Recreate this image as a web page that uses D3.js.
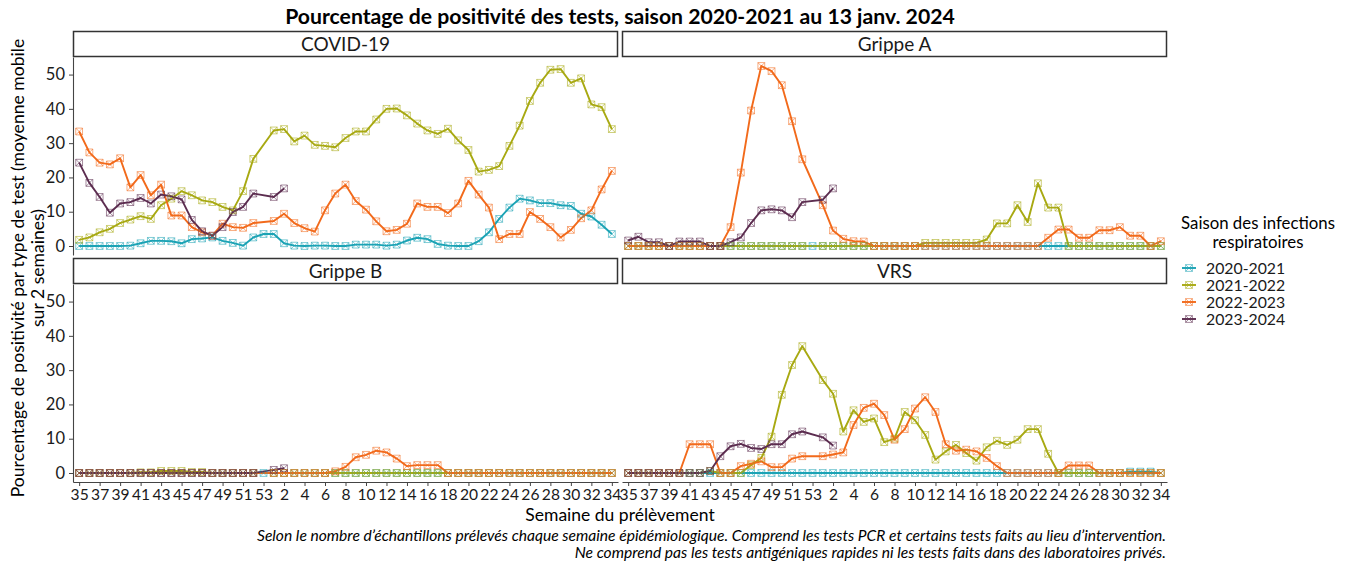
<!DOCTYPE html>
<html>
<head>
<meta charset="utf-8">
<script src="https://cdn.jsdelivr.net/npm/d3@7"></script>
<style>
  body { margin: 0; background: #fff; }
  svg { font-family: Lato, "Open Sans", sans-serif; }
</style>
</head>
<body>
<svg id="chart"></svg>
<script>
// semaines epidemiologiques (53 positions, la 53 n'existe que pour 2020-2021)
const weeks = [35, 36, 37, 38, 39, 40, 41, 42, 43, 44, 45, 46, 47, 48, 49, 50, 51, 52, 53,
  1, 2, 3, 4, 5, 6, 7, 8, 9, 10, 11, 12, 13, 14, 15, 16, 17, 18, 19, 20, 21, 22, 23, 24,
  25, 26, 27, 28, 29, 30, 31, 32, 33, 34];

const seasons = ['2020-2021', '2021-2022', '2022-2023', '2023-2024'];
const colors = ['#1ba3b5', '#a8a912', '#f26a1b', '#5c2d50'];
const panels = ['COVID-19', 'Grippe A', 'Grippe B', 'VRS'];

const covid2020 = [0, 0, 0, 0, 0, 0.1, 0.8, 1.5, 1.5, 1.4, 0.8, 2.0, 2.2, 2.5, 1.5, 0.9, 0.1, 2.5, 3.5,
  3.5, 0.8, 0.1, 0, 0.1, 0.1, 0, 0, 0.4, 0.4, 0.4, 0.1, 0.4, 1.6, 2.4, 2.0, 0.6, 0.1, 0, 0, 1.4, 4.0,
  7.9, 11.2, 13.8, 13.3, 12.5, 12.5, 11.9, 11.7, 9.4, 8.6, 6.2, 3.5];
const covid2021 = [1.8, 2.5, 4.0, 5.0, 6.7, 7.7, 8.7, 7.9, 11.9, 13.8, 16.0, 14.8, 13.3, 12.8, 11.4, 10.4, 16.0, 25.4, null,
  33.7, 34.1, 30.5, 32.2, 29.5, 29.2, 28.8, 31.5, 33.4, 33.4, 36.9, 40.0, 40.1, 38.1, 35.7, 33.7, 32.7, 34.2, 30.8, 28.0, 21.7, 22.2,
  23.3, 29.2, 35.1, 42.3, 47.6, 51.4, 51.6, 47.6, 48.9, 41.3, 40.5, 34.1];
const covid2022 = [33.4, 27.3, 24.3, 23.8, 25.6, 17.1, 20.7, 14.8, 17.9, 8.9, 8.9, 5.5, 4.0, 3.0, 6.5, 5.5, 5.3, 6.7, null,
  7.3, 9.4, 6.7, 5.2, 4.2, 10.4, 15.3, 17.9, 13.1, 10.6, 7.2, 4.3, 4.7, 6.5, 12.4, 11.4, 11.4, 9.6, 12.4, 19.0, 15.0, 11.2,
  2.0, 3.5, 3.5, 9.9, 7.9, 5.5, 2.5, 4.7, 8.1, 10.4, 16.5, 21.9];
const covid2023 = [24.3, 18.4, 14.3, 9.7, 12.4, 12.8, 14.0, 12.4, 15.0, 14.5, 13.6, 7.6, 4.3, 3.0, 5.5, 9.9, 11.4, 15.3, null,
  14.3, 16.8];

const grippeA2020 = [0, 0, 0, 0, 0, 0, 0, 0, 0, 0, 0, 0, 0, 0, 0, 0, 0, 0, 0,
  0, 0, 0, 0, 0, 0, 0, 0, 0, 0, 0, 0, 0, 0, 0, 0, 0, 0, 0, 0, 0, 0,
  0, 0, 0, 0, 0, 0, 0, 0, 0, 0, 0, 0];
const grippeA2021 = [0, 0, 0, 0, 0, 0, 0, 0, 0, 0, 0, 0, 0, 0, 0, 0, 0, 0, null,
  0, 0, 0, 0, 0, 0, 0, 0, 0, 0, 0.9, 0.9, 0.9, 0.9, 0.9, 0.9, 1.9, 6.6, 6.6, 11.9, 7.0, 18.3,
  11.2, 11.2, 0, 0, 0, 0, 0, 0, 0, 0, 0, 0];
const grippeA2022 = [0, 0, 0, 0, 0, 0, 0, 0, 0, 0, 5.5, 21.4, 39.5, 52.5, 51.0, 46.9, 36.4, 25.3, null,
  11.9, 4.5, 2.1, 1.4, 1.3, 0, 0, 0, 0, 0, 0, 0, 0, 0, 0, 0, 0, 0, 0, 0, 0, 0,
  2.4, 4.8, 4.8, 2.4, 2.4, 4.6, 4.6, 5.5, 3.0, 3.0, 0, 1.4];
const grippeA2023 = [1.6, 2.7, 1.1, 1.1, 0, 1.3, 1.3, 1.3, 0, 0, 1.1, 2.5, 6.7, 10.4, 10.7, 10.4, 8.4, 12.8, null,
  13.5, 16.8];

const grippeB2020 = [0, 0, 0, 0, 0, 0, 0, 0, 0, 0, 0, 0, 0, 0, 0, 0, 0, 0, 0,
  0, 0, 0, 0, 0, 0, 0, 0, 0, 0, 0, 0, 0, 0, 0, 0, 0, 0, 0, 0, 0, 0,
  0, 0, 0, 0, 0, 0, 0, 0, 0, 0, 0, 0];
const grippeB2021 = [0, 0, 0, 0, 0, 0, 0.2, 0.2, 0.6, 0.6, 0.6, 0.3, 0.3, 0, 0, 0, 0, 0, null,
  0, 0, 0, 0, 0, 0, 0, 0, 0, 0, 0, 0, 0, 0, 0, 0, 0, 0, 0, 0, 0, 0,
  0, 0, 0, 0, 0, 0, 0, 0, 0, 0, 0, 0];
const grippeB2022 = [0, 0, 0, 0, 0, 0, 0, 0, 0, 0, 0, 0, 0, 0, 0, 0, 0, 0, null,
  0, 0, 0, 0, 0, 0, 0.5, 1.8, 4.6, 5.3, 6.5, 6.0, 4.2, 2.0, 2.3, 2.3, 2.3, 0, 0, 0, 0, 0,
  0, 0, 0, 0, 0, 0, 0, 0, 0, 0, 0, 0];
const grippeB2023 = [0, 0, 0, 0, 0, 0, 0, 0, 0, 0, 0, 0, 0, 0, 0, 0, 0, 0, null,
  0.9, 1.4];

const vrs2020 = [0, 0, 0, 0, 0, 0, 0, 0, 0, 0, 0, 0, 0, 0, 0, 0, 0, 0, 0,
  0, 0, 0, 0, 0, 0, 0, 0, 0, 0, 0, 0, 0, 0, 0, 0, 0, 0, 0, 0, 0, 0,
  0, 0, 0, 0, 0, 0, 0, 0, 0.4, 0.4, 0.4, 0];
const vrs2021 = [0, 0, 0, 0, 0, 0, 0, 0, 0.6, 0, 0, 0, 2.3, 4.4, 10.6, 22.8, 31.5, 37.0, null,
  27.1, 23.1, 12.1, 18.3, 14.9, 15.9, 9.0, 10.0, 17.8, 15.4, 11.1, 3.9, 6.3, 8.2, 5.8, 3.6, 7.5, 9.4, 8.2, 9.7, 12.8, 12.8,
  5.6, 0, 0, 0, 0, 0, 0, 0, 0, 0, 0, 0];
const vrs2022 = [0, 0, 0, 0, 0, 0, 8.4, 8.4, 8.4, 0, 0, 2.0, 2.7, 3.4, 1.7, 1.7, 4.2, 4.9, null,
  4.9, 5.4, 6.0, 14.0, 19.0, 20.2, 16.9, 9.7, 12.8, 18.8, 22.1, 17.8, 8.4, 6.5, 6.8, 6.3, 4.4, 2.0, 0, 0, 0, 0,
  0, 0, 2.2, 2.2, 2.2, 0, 0, 0, 0, 0, 0, 0];
const vrs2023 = [0, 0, 0, 0, 0, 0, 0, 0, 0.6, 4.9, 7.8, 8.5, 7.3, 7.0, 8.4, 8.4, 11.3, 12.1, null,
  10.4, 8.0];

const yTicks = [0, 10, 20, 30, 40, 50];
const xTicks = weeks.filter((w, i) => i % 2 === 0);

const panelData = [
  [covid2020, covid2021, covid2022, covid2023],
  [grippeA2020, grippeA2021, grippeA2022, grippeA2023],
  [grippeB2020, grippeB2021, grippeB2022, grippeB2023],
  [vrs2020, vrs2021, vrs2022, vrs2023]
];

const width = 1353;
const height = 564;
const panelW = 545;
const panelH = 198;
const stripH = 26;
const colX = [73, 622];
const rowY = [31, 258];

const svg = d3.select('#chart')
  .attr('width', width)
  .attr('height', height);

const x = d3.scalePoint()
  .domain(weeks)
  .range([0, panelW])
  .padding(0.6);

const allValues = panelData.flat(2).filter(v => v !== null);
const yMin = d3.min(allValues);
const yMax = d3.max(allValues);
const yPad = (yMax - yMin) * 0.05;
const y = d3.scaleLinear()
  .domain([yMin - yPad, yMax + yPad])
  .range([panelH, 0]);

const line = d3.line()
  .x(d => x(d.w))
  .y(d => y(d.v));

const markerPath = s => `M${-s},${-s}H${s}V${s}H${-s}Z M${-s},${-s}L${s},${s} M${-s},${s}L${s},${-s}`;

// titre
svg.append('text')
  .attr('x', 620)
  .attr('y', 24)
  .attr('text-anchor', 'middle')
  .style('font-size', '21.2px')
  .style('font-weight', 'bold')
  .style('fill', '#000')
  .text('Pourcentage de positivité des tests, saison 2020-2021 au 13 janv. 2024');

panels.forEach((name, p) => {
  const col = p % 2;
  const row = Math.floor(p / 2);
  const g = svg.append('g')
    .attr('transform', `translate(${colX[col]}, ${rowY[row]})`);

  // bandeau
  g.append('rect')
    .attr('x', 0.5)
    .attr('y', 0.5)
    .attr('width', panelW - 1)
    .attr('height', stripH - 1)
    .style('fill', '#fff')
    .style('stroke', '#333')
    .style('stroke-width', 1.5);

  g.append('text')
    .attr('x', panelW / 2)
    .attr('y', stripH / 2 + 7)
    .attr('text-anchor', 'middle')
    .style('font-size', '19px')
    .style('fill', '#1a1a1a')
    .text(name);

  const plot = g.append('g')
    .attr('transform', `translate(0, ${stripH})`);

  const series = panelData[p].map((vals, s) => ({
    s: s,
    pts: vals.map((v, i) => ({ w: weeks[i], v: v })).filter(d => d.v !== null)
  }));

  plot.selectAll('path.line')
    .data(series)
    .enter()
    .append('path')
    .attr('class', 'line')
    .attr('d', d => line(d.pts))
    .style('fill', 'none')
    .style('stroke', d => colors[d.s])
    .style('stroke-width', 1.9)
    .style('stroke-linejoin', 'round');

  series.forEach(d => {
    plot.selectAll(null)
      .data(d.pts)
      .enter()
      .append('path')
      .attr('transform', e => `translate(${x(e.w)}, ${y(e.v)})`)
      .attr('d', markerPath(3.4))
      .style('fill', 'none')
      .style('stroke', colors[d.s])
      .style('stroke-width', 1)
      .style('stroke-opacity', 0.55);
  });

  if (col === 0) {
    const yAxis = d3.axisLeft(y)
      .tickValues(yTicks)
      .tickSize(4)
      .tickSizeOuter(0)
      .tickPadding(4);
    const ya = plot.append('g').call(yAxis);
    ya.select('.domain').style('stroke', '#444').style('stroke-width', 1.1);
    ya.selectAll('.tick line').style('stroke', '#444');
    ya.selectAll('.tick text')
      .style('font-size', '16.5px')
      .style('fill', '#1a1a1a')
      .style('font-family', 'Lato, sans-serif');
  }

  if (row === 1) {
    const xAxis = d3.axisBottom(x)
      .tickValues(xTicks)
      .tickSize(4)
      .tickSizeOuter(0)
      .tickPadding(3);
    const xa = plot.append('g')
      .attr('transform', `translate(0, ${panelH})`)
      .call(xAxis);
    xa.select('.domain').style('stroke', '#444').style('stroke-width', 1.1);
    xa.selectAll('.tick line').style('stroke', '#444');
    xa.selectAll('.tick text')
      .style('font-size', '15.6px')
      .style('fill', '#1a1a1a')
      .style('font-family', 'Lato, sans-serif');
  }
});

// titres des axes
svg.append('text')
  .attr('x', 620)
  .attr('y', 521)
  .attr('text-anchor', 'middle')
  .style('font-size', '17.5px')
  .style('fill', '#000')
  .text('Semaine du prélèvement');

const yTitle = svg.append('text')
  .attr('transform', 'translate(0, 268) rotate(-90)')
  .attr('text-anchor', 'middle')
  .style('font-size', '17.6px')
  .style('fill', '#000');
yTitle.append('tspan').attr('x', 0).attr('y', 24).text('Pourcentage de positivité par type de test (moyenne mobile');
yTitle.append('tspan').attr('x', 0).attr('y', 44).text('sur 2 semaines)');

// note
const caption = svg.append('text')
  .attr('text-anchor', 'end')
  .style('font-size', '15.6px')
  .style('font-style', 'italic')
  .style('fill', '#000');
caption.append('tspan').attr('x', 1166).attr('y', 541)
  .text('Selon le nombre d\u2019échantillons prélevés chaque semaine épidémiologique. Comprend les tests PCR et certains tests faits au lieu d\u2019intervention.');
caption.append('tspan').attr('x', 1166).attr('y', 558)
  .text('Ne comprend pas les tests antigéniques rapides ni les tests faits dans des laboratoires privés.');

// legende
const legend = svg.append('g')
  .attr('transform', 'translate(1180, 0)');

legend.append('text')
  .attr('x', 78)
  .attr('y', 229)
  .attr('text-anchor', 'middle')
  .style('font-size', '16.8px')
  .style('fill', '#000')
  .text('Saison des infections');
legend.append('text')
  .attr('x', 78)
  .attr('y', 248)
  .attr('text-anchor', 'middle')
  .style('font-size', '16.8px')
  .style('fill', '#000')
  .text('respiratoires');

seasons.forEach((s, i) => {
  const ly = 268 + i * 17;
  legend.append('line')
    .attr('x1', 2)
    .attr('x2', 16)
    .attr('y1', ly)
    .attr('y2', ly)
    .style('stroke', colors[i])
    .style('stroke-width', 1.9);
  legend.append('path')
    .attr('transform', `translate(9, ${ly})`)
    .attr('d', markerPath(3.4))
    .style('fill', 'none')
    .style('stroke', colors[i])
    .style('stroke-opacity', 0.55);
  legend.append('text')
    .attr('x', 26)
    .attr('y', ly + 5.5)
    .style('font-size', '15.8px')
    .style('fill', '#1a1a1a')
    .text(s);
});
</script>
</body>
</html>
